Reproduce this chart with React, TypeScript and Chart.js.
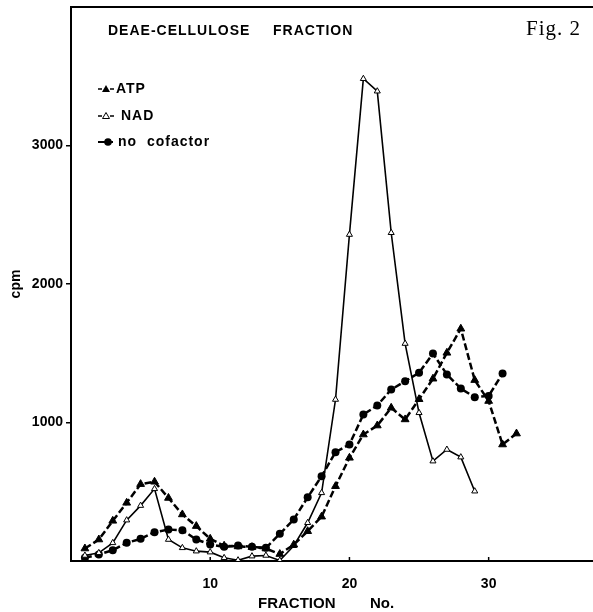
import React, { useEffect, useRef } from "react";
import { Chart, registerables } from "chart.js";

Chart.register(...registerables);

// ---- data ----
const ATP_FRACTION = [1, 2, 3, 4, 5, 6, 7, 8, 9, 10, 11, 12, 13, 14, 15, 16, 17, 18, 19, 20, 21, 22, 23, 24, 25, 26, 27, 28, 29, 30, 31, 32];
const ATP_CPM = [90, 155, 290, 420, 555, 572, 455, 336, 252, 160, 110, 105, 100, 90, 50, 118, 215, 320, 540, 745, 913, 978, 1106, 1022, 1168, 1316, 1503, 1677, 1306, 1155, 841, 920];

const NAD_FRACTION = [1, 2, 3, 4, 5, 6, 7, 8, 9, 10, 11, 12, 13, 14, 15, 16, 17, 18, 19, 20, 21, 22, 23, 24, 25, 26, 27, 28, 29];
const NAD_CPM = [40, 59, 131, 295, 400, 521, 155, 95, 71, 64, 23, 6, 35, 40, 4, 110, 276, 492, 1166, 2357, 3482, 3392, 2370, 1570, 1070, 721, 805, 750, 504];

const NOCOF_FRACTION = [1, 2, 3, 4, 5, 6, 7, 8, 9, 10, 11, 12, 13, 14, 15, 16, 17, 18, 19, 20, 21, 22, 23, 24, 25, 26, 27, 28, 29, 30, 31];
const NOCOF_CPM = [23, 47, 78, 131, 160, 208, 227, 222, 155, 120, 102, 112, 102, 95, 196, 300, 460, 612, 786, 841, 1058, 1123, 1238, 1298, 1359, 1498, 1347, 1245, 1183, 1192, 1354];

const SERIES_LABELS = ["ATP", "NAD", "no  cofactor"];
const Y_TICKS_SHOWN = [1000, 2000, 3000];
const X_TICKS_SHOWN = [10, 20, 30];
const TITLE_LEFT = "DEAE-CELLULOSE";
const TITLE_RIGHT = "FRACTION";
const FIG_LABEL = "Fig. 2";
const X_TITLE_PARTS = ["FRACTION", "No."];
const Y_TITLE = "cpm";

const SANS = "'Liberation Sans', Arial, sans-serif";
const SERIF = "'Liberation Serif', 'Times New Roman', serif";

const toPoints = (xs: number[], ys: number[]) => xs.map((x, i) => ({ x, y: ys[i] }));

const zeroPadding = (s: any) => {
  s.paddingTop = 0;
  s.paddingBottom = 0;
  s.paddingLeft = 0;
  s.paddingRight = 0;
};

const decorPlugin = {
  id: "decor",
  afterDraw(chart: any) {
    const { ctx, chartArea, scales } = chart;
    ctx.save();
    // top frame line
    ctx.strokeStyle = "#000";
    ctx.lineWidth = 2;
    ctx.beginPath();
    ctx.moveTo(chartArea.left - 1, chartArea.top);
    ctx.lineTo(chart.width, chartArea.top);
    ctx.stroke();
    // bottom axis continues to the edge
    ctx.beginPath();
    ctx.moveTo(chartArea.right - 1, chartArea.bottom);
    ctx.lineTo(chart.width, chartArea.bottom);
    ctx.stroke();
    // inward x ticks
    ctx.lineWidth = 1.5;
    X_TICKS_SHOWN.forEach((v) => {
      const px = scales.x.getPixelForValue(v);
      ctx.beginPath();
      ctx.moveTo(px, chartArea.bottom);
      ctx.lineTo(px, chartArea.bottom - 4);
      ctx.stroke();
    });

    // header texts
    ctx.fillStyle = "#000";
    ctx.textBaseline = "middle";
    ctx.font = `bold 14px ${SANS}`;
    (ctx as any).letterSpacing = "1px";
    ctx.fillText(TITLE_LEFT, 108, 31);
    ctx.fillText(TITLE_RIGHT, 273, 31);
    ctx.font = `21px ${SERIF}`;
    ctx.fillText(FIG_LABEL, 526, 29);
    (ctx as any).letterSpacing = "0px";

    // x axis title
    ctx.font = `bold 15px ${SANS}`;
    ctx.fillText(X_TITLE_PARTS[0], 258, 604);
    ctx.fillText(X_TITLE_PARTS[1], 370, 604);

    // legend
    const rows = [89, 116, 142];
    ctx.lineWidth = 1.5;
    // ATP
    let y = rows[0];
    ctx.beginPath();
    ctx.moveTo(98, y); ctx.lineTo(102, y);
    ctx.moveTo(110, y); ctx.lineTo(114, y);
    ctx.stroke();
    ctx.beginPath();
    ctx.moveTo(106, y - 4); ctx.lineTo(110, y + 3); ctx.lineTo(102, y + 3); ctx.closePath();
    ctx.fill();
    // NAD
    y = rows[1];
    ctx.beginPath();
    ctx.moveTo(98, y); ctx.lineTo(102, y);
    ctx.moveTo(110, y); ctx.lineTo(114, y);
    ctx.stroke();
    ctx.lineWidth = 1;
    ctx.beginPath();
    ctx.moveTo(106, y - 3.5); ctx.lineTo(109.5, y + 2.5); ctx.lineTo(102.5, y + 2.5); ctx.closePath();
    ctx.fillStyle = "#fff";
    ctx.fill();
    ctx.stroke();
    ctx.fillStyle = "#000";
    // no cofactor
    y = rows[2];
    ctx.lineWidth = 2;
    ctx.beginPath();
    ctx.moveTo(98, y); ctx.lineTo(113, y);
    ctx.stroke();
    ctx.beginPath();
    ctx.arc(108, y, 3.8, 0, Math.PI * 2);
    ctx.fill();

    ctx.font = `bold 14px ${SANS}`;
    (ctx as any).letterSpacing = "1px";
    ctx.fillText(SERIES_LABELS[0], 116, rows[0]);
    ctx.fillText(SERIES_LABELS[1], 121, rows[1]);
    ctx.fillText(SERIES_LABELS[2], 118, rows[2]);
    (ctx as any).letterSpacing = "0px";
    ctx.restore();
  },
};

export default function App() {
  const canvasRef = useRef<HTMLCanvasElement | null>(null);

  useEffect(() => {
    if (!canvasRef.current) return;
    const chart = new Chart(canvasRef.current, {
      type: "line",
      data: {
        datasets: [
          {
            label: SERIES_LABELS[0],
            data: toPoints(ATP_FRACTION, ATP_CPM),
            borderColor: "#000",
            backgroundColor: "#000",
            borderWidth: 2.5,
            borderDash: [7, 3],
            pointStyle: "triangle",
            pointRadius: 4.5,
            pointBackgroundColor: "#000",
            pointBorderColor: "#000",
            pointBorderWidth: 1,
          },
          {
            label: SERIES_LABELS[1],
            data: toPoints(NAD_FRACTION, NAD_CPM),
            borderColor: "#000",
            backgroundColor: "#fff",
            borderWidth: 1.6,
            pointStyle: "triangle",
            pointRadius: 3.5,
            pointBackgroundColor: "#fff",
            pointBorderColor: "#000",
            pointBorderWidth: 1,
          },
          {
            label: SERIES_LABELS[2],
            data: toPoints(NOCOF_FRACTION, NOCOF_CPM),
            borderColor: "#000",
            backgroundColor: "#000",
            borderWidth: 2.5,
            borderDash: [7, 3],
            pointStyle: "circle",
            pointRadius: 4,
            pointBackgroundColor: "#000",
            pointBorderColor: "#000",
            pointBorderWidth: 0,
          },
        ],
      },
      options: {
        animation: false,
        responsive: false,
        layout: { padding: { top: 7, left: 1, right: -6, bottom: 0 } },
        plugins: { legend: { display: false }, tooltip: { enabled: false } },
        scales: {
          x: {
            type: "linear",
            min: 0,
            max: 37.1,
            afterBuildTicks: (s: any) => { s.ticks = X_TICKS_SHOWN.map((v) => ({ value: v })); },
            afterFit: (s: any) => { s.height = 51; zeroPadding(s); },
            ticks: {
              autoSkip: false,
              maxRotation: 0,
              padding: 7,
              color: "#000",
              font: { family: SANS, size: 14, weight: "bold" },
              callback: (v: any) => String(v),
            },
            grid: { display: false },
            border: { display: true, color: "#000", width: 2 },
            title: { display: false },
          },
          y: {
            type: "linear",
            min: 0,
            max: 4000,
            afterBuildTicks: (s: any) => { s.ticks = Y_TICKS_SHOWN.map((v) => ({ value: v })); },
            afterFit: (s: any) => { s.width = 70; zeroPadding(s); },
            ticks: {
              padding: 3,
              color: "#000",
              font: { family: SANS, size: 14, weight: "bold" },
              callback: (v: any) => String(v),
            },
            grid: {
              display: true,
              drawOnChartArea: false,
              drawTicks: true,
              tickLength: 5,
              lineWidth: 1.5,
              color: "#000",
            },
            border: { display: true, color: "#000", width: 2 },
            title: {
              display: true,
              text: Y_TITLE,
              color: "#000",
              font: { family: SANS, size: 14, weight: "bold" },
              padding: { top: 7, bottom: 0 },
            },
          },
        },
      },
      plugins: [decorPlugin],
    });
    return () => chart.destroy();
  }, []);

  return (
    <div style={{ position: "absolute", left: 0, top: 0, width: 593, height: 612, background: "#fff" }}>
      <canvas ref={canvasRef} width={593} height={612} style={{ display: "block" }} />
    </div>
  );
}
